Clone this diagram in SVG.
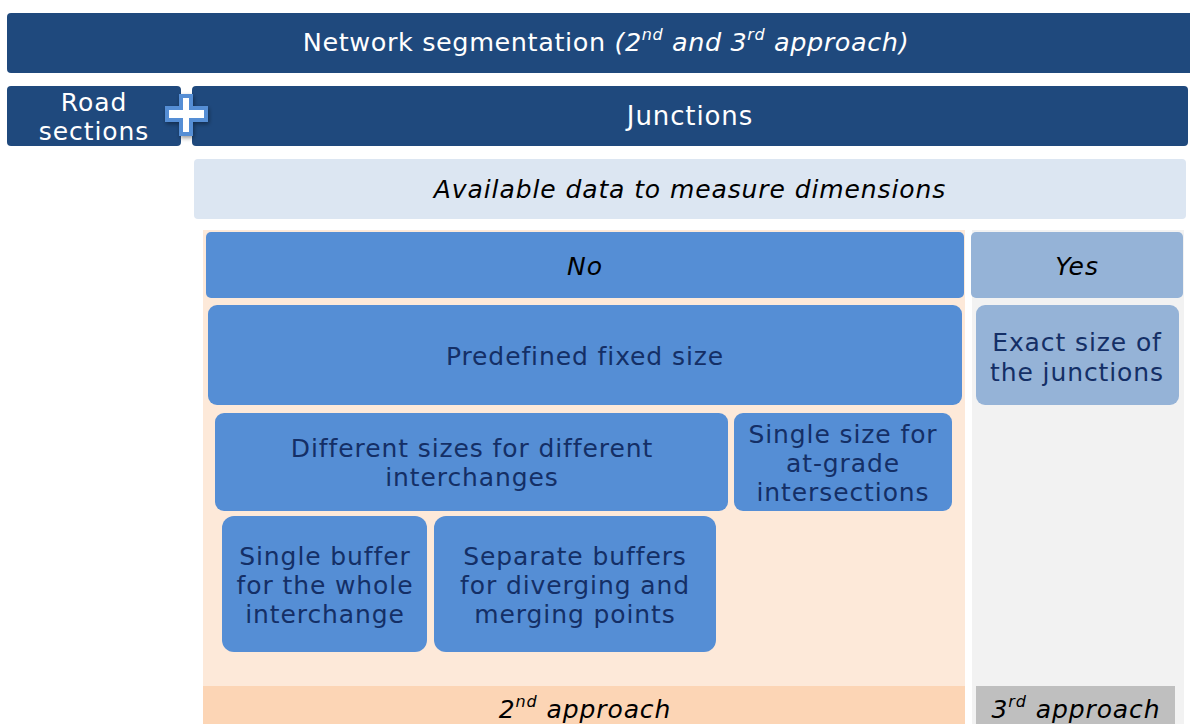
<svg xmlns="http://www.w3.org/2000/svg" width="1190" height="724" viewBox="0 0 1190 724">
<defs>
<style>
.dark{fill:#1F497D}
.mid{fill:#558ED5}
.lite{fill:#95B3D7}
.t{font-family:"DejaVu Sans","Verdana",sans-serif;font-size:25px;letter-spacing:0.9px;text-anchor:middle}
.big{font-size:26px}
.ttl{font-size:25.5px;letter-spacing:0.6px}
.w{fill:#FFFFFF}
.n{fill:#142F66}
.k{fill:#000000;font-style:italic}
</style>
<filter id="sh" x="-30%" y="-30%" width="160%" height="160%"><feDropShadow dx="1" dy="2" stdDeviation="2" flood-opacity="0.4"/></filter>
</defs>
<rect width="1190" height="724" fill="#FFFFFF"/>
<g id="bg-orange"><rect x="203" y="230" width="762" height="494" fill="#FDE9D9"/><rect x="203" y="686" width="762" height="38" fill="#FCD5B5"/><text class="t k" x="585" y="718">2<tspan font-size="16" dy="-11">nd</tspan><tspan dy="11"> approach</tspan></text></g>
<g id="bg-gray"><rect x="972" y="230" width="212" height="494" fill="#F2F2F2"/><rect x="976" y="686" width="199" height="38" fill="#BFBFBF"/><text class="t k" x="1076" y="718">3<tspan font-size="16" dy="-11">rd</tspan><tspan dy="11"> approach</tspan></text></g>
<g id="title"><rect class="dark" x="7" y="13" width="1190" height="60" rx="4"/><text class="t ttl w" x="606" y="51">Network segmentation <tspan font-style="italic">(2<tspan font-size="16" dy="-11">nd</tspan><tspan dy="11"> and 3</tspan><tspan font-size="16" dy="-11">rd</tspan><tspan dy="11"> approach)</tspan></tspan></text></g>
<g id="road"><rect class="dark" x="7" y="86" width="174" height="60" rx="4"/><text class="t w" x="94" y="111">Road</text><text class="t w" x="94" y="140">sections</text></g>
<g id="junctions"><rect class="dark" x="192" y="86" width="996" height="60" rx="4"/><text class="t big w" x="690" y="125">Junctions</text></g>
<g id="plus" filter="url(#sh)"><path d="M179 94 H193 V106 H208 V122 H193 V136 H179 V122 H165 V106 H179 Z" fill="#558ED5"/><path d="M183 98 H189 V110 H204 V118 H189 V132 H183 V118 H169 V110 H183 Z" fill="#FFFFFF"/></g>
<g id="available"><rect x="194" y="159" width="992" height="60" rx="4" fill="#DCE6F2"/><text class="t k" x="690" y="198">Available data to measure dimensions</text></g>
<g id="no"><rect class="mid" x="206" y="232" width="758" height="66" rx="5"/><text class="t k" x="585" y="275">No</text></g>
<g id="yes"><rect class="lite" x="971" y="232" width="212" height="66" rx="5"/><text class="t k" x="1077" y="275">Yes</text></g>
<g id="predefined"><rect class="mid" x="208" y="305" width="754" height="100" rx="9"/><text class="t n" x="585" y="365">Predefined fixed size</text></g>
<g id="exact"><rect class="lite" x="976" y="305" width="203" height="100" rx="9"/><text class="t n" x="1077" y="351">Exact size of</text><text class="t n" x="1077" y="381">the junctions</text></g>
<g id="different"><rect class="mid" x="215" y="413" width="513" height="98" rx="9"/><text class="t n" x="472" y="457">Different sizes for different</text><text class="t n" x="472" y="486">interchanges</text></g>
<g id="single-size"><rect class="mid" x="734" y="413" width="218" height="98" rx="9"/><text class="t n" x="843" y="443">Single size for</text><text class="t n" x="843" y="472">at-grade</text><text class="t n" x="843" y="501">intersections</text></g>
<g id="single-buffer"><rect class="mid" x="222" y="516" width="205" height="136" rx="12"/><text class="t n" x="325" y="565">Single buffer</text><text class="t n" x="325" y="594">for the whole</text><text class="t n" x="325" y="623">interchange</text></g>
<g id="separate"><rect class="mid" x="434" y="516" width="282" height="136" rx="12"/><text class="t n" x="575" y="565">Separate buffers</text><text class="t n" x="575" y="594">for diverging and</text><text class="t n" x="575" y="623">merging points</text></g>
<g id="connectors"></g>
</svg>
